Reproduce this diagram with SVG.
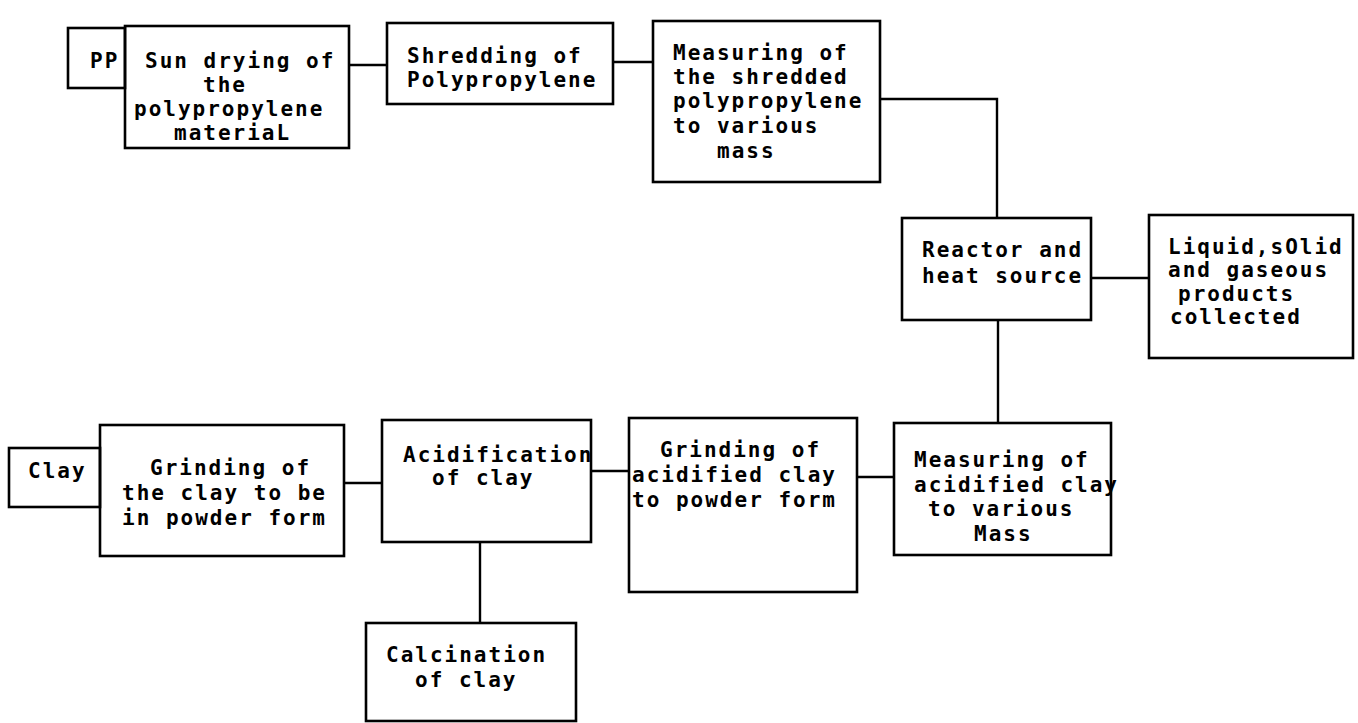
<svg xmlns="http://www.w3.org/2000/svg" width="1358" height="723" viewBox="0 0 1358 723">
<style>
.box{fill:none;stroke:#000;stroke-width:2.6}
.c{fill:none;stroke:#000;stroke-width:2.4}
text{font-family:"DejaVu Sans Mono","Liberation Mono",monospace;font-size:21px;font-weight:bold;letter-spacing:2px;fill:#000}
</style>
<rect width="1358" height="723" fill="#fff"/>
<g id="connectors">
<line class="c" x1="349" y1="65" x2="387" y2="65"/>
<line class="c" x1="613" y1="62" x2="653" y2="62"/>
<polyline class="c" points="880,99 997,99 997,218"/>
<line class="c" x1="1091" y1="278" x2="1149" y2="278"/>
<line class="c" x1="998" y1="320" x2="998" y2="423"/>
<line class="c" x1="857" y1="477" x2="894" y2="477"/>
<line class="c" x1="591" y1="471" x2="629" y2="471"/>
<line class="c" x1="344" y1="483" x2="382" y2="483"/>
<line class="c" x1="480" y1="542" x2="480" y2="623"/>
</g>
<g id="pp">
<rect class="box" x="68" y="28" width="57" height="60"/>
<text x="90" y="68">PP</text>
</g>
<g id="sun-drying">
<rect class="box" x="125" y="26" width="224" height="122"/>
<text x="145" y="68">Sun drying of</text>
<text x="203" y="92">the</text>
<text x="134" y="116">polypropylene</text>
<text x="174" y="140">materiaL</text>
</g>
<g id="shredding">
<rect class="box" x="387" y="23" width="226" height="81"/>
<text x="407" y="63">Shredding of</text>
<text x="407" y="87">Polypropylene</text>
</g>
<g id="measuring-pp">
<rect class="box" x="653" y="21" width="227" height="161"/>
<text x="673" y="60">Measuring of</text>
<text x="673" y="84">the shredded</text>
<text x="673" y="108">polypropylene</text>
<text x="673" y="133">to various</text>
<text x="717" y="158">mass</text>
</g>
<g id="reactor">
<rect class="box" x="902" y="218" width="189" height="102"/>
<text x="922" y="257">Reactor and</text>
<text x="922" y="283">heat source</text>
</g>
<g id="products">
<rect class="box" x="1149" y="215" width="204" height="143"/>
<text x="1168" y="254">Liquid,sOlid</text>
<text x="1168" y="277">and gaseous</text>
<text x="1178" y="301">products</text>
<text x="1170" y="324">collected</text>
</g>
<g id="clay">
<rect class="box" x="9" y="448" width="91" height="59"/>
<text x="28" y="478">Clay</text>
</g>
<g id="grinding-clay">
<rect class="box" x="100" y="425" width="244" height="131"/>
<text x="150" y="475">Grinding of</text>
<text x="122" y="500">the clay to be</text>
<text x="122" y="525">in powder form</text>
</g>
<g id="acidification">
<rect class="box" x="382" y="420" width="209" height="122"/>
<text x="403" y="462">Acidification</text>
<text x="432" y="485">of clay</text>
</g>
<g id="grinding-acidified">
<rect class="box" x="629" y="418" width="228" height="174"/>
<text x="660" y="457">Grinding of</text>
<text x="632" y="482">acidified clay</text>
<text x="632" y="507">to powder form</text>
</g>
<g id="measuring-clay">
<rect class="box" x="894" y="423" width="217" height="132"/>
<text x="914" y="467">Measuring of</text>
<text x="914" y="492">acidified clay</text>
<text x="928" y="516">to various</text>
<text x="974" y="541">Mass</text>
</g>
<g id="calcination">
<rect class="box" x="366" y="623" width="210" height="98"/>
<text x="386" y="662">Calcination</text>
<text x="415" y="687">of clay</text>
</g>
</svg>
